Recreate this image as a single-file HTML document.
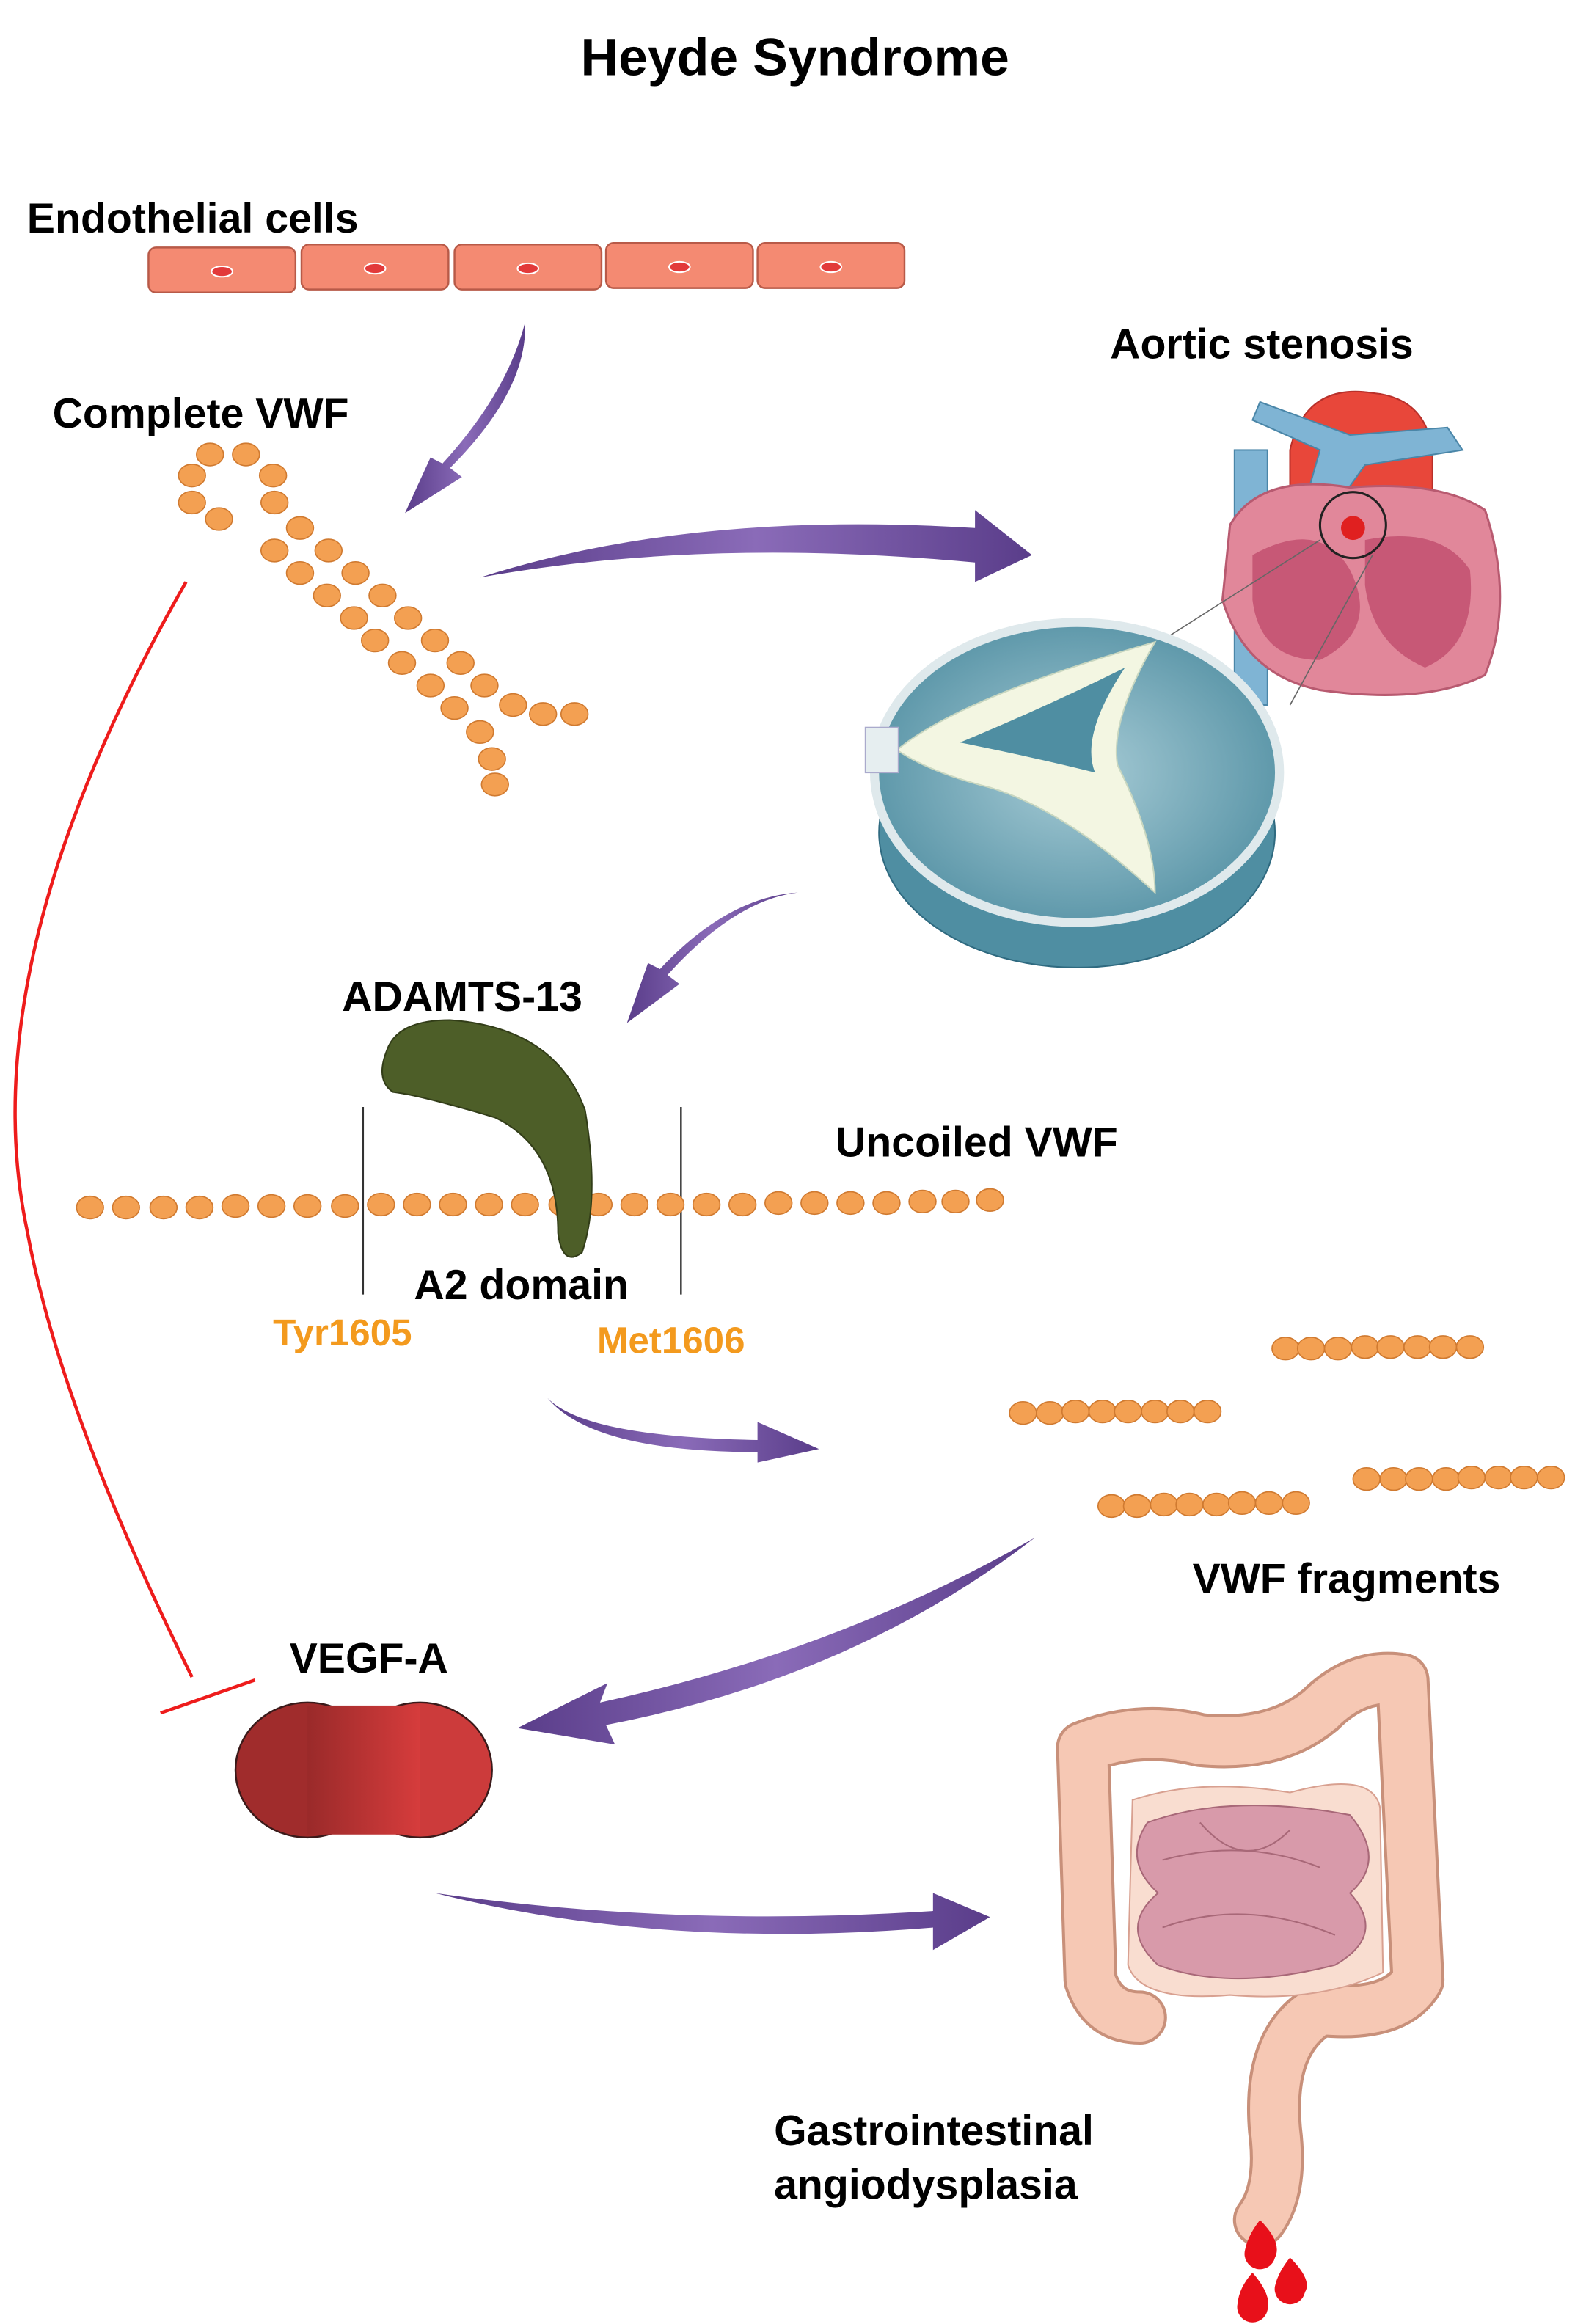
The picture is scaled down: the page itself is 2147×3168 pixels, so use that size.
<!DOCTYPE html>
<html><head><meta charset="utf-8"><style>body{margin:0;background:#fff}svg{display:block}text{font-family:"Liberation Sans",sans-serif;font-weight:bold}</style></head><body>
<svg width="2147" height="3168" viewBox="0 0 1050 1549.3" xmlns="http://www.w3.org/2000/svg">
<defs>
<linearGradient id="pg" x1="0" x2="1"><stop offset="0" stop-color="#5a3d8a"/><stop offset="0.5" stop-color="#8a6bb8"/><stop offset="1" stop-color="#5a3d8a"/></linearGradient>
<linearGradient id="rg" x1="0" x2="1"><stop offset="0" stop-color="#9a2a2a"/><stop offset="1" stop-color="#d63c3c"/></linearGradient>
<radialGradient id="vg"><stop offset="0" stop-color="#a8ccd6"/><stop offset="1" stop-color="#5e98aa"/></radialGradient>
<g id="d"><ellipse rx="9" ry="7.5" fill="#f3a052" stroke="#d07a30" stroke-width="0.8"/></g>
</defs>
<text x="530" y="50" font-size="35" text-anchor="middle">Heyde Syndrome</text>
<text x="18" y="155" font-size="28">Endothelial cells</text>
<g fill="#f48a72" stroke="#b85a48" stroke-width="1.2">
<rect x="99" y="165" width="98" height="30" rx="5"/><rect x="201" y="163" width="98" height="30" rx="5"/><rect x="303" y="163" width="98" height="30" rx="5"/><rect x="404" y="162" width="98" height="30" rx="5"/><rect x="505" y="162" width="98" height="30" rx="5"/></g>
<g fill="#e23a3a" stroke="#fff" stroke-width="1"><ellipse cx="148" cy="181" rx="7" ry="3.5"/><ellipse cx="250" cy="179" rx="7" ry="3.5"/><ellipse cx="352" cy="179" rx="7" ry="3.5"/><ellipse cx="453" cy="178" rx="7" ry="3.5"/><ellipse cx="554" cy="178" rx="7" ry="3.5"/></g>
<text x="35" y="285" font-size="28">Complete VWF</text>
<text x="740" y="239" font-size="28">Aortic stenosis</text>
<g fill="url(#pg)">
<path d="M350,215 Q352,260 300,312 L308,318 L270,342 L287,305 L295,309 Q338,262 350,215Z"/>
<path d="M320,385 Q460,340 650,352 L650,340 L688,370 L650,388 L650,375 Q470,358 320,385Z"/>
<path d="M532,595 Q490,600 445,650 L453,656 L418,682 L432,642 L440,646 Q485,598 532,595Z"/>
<path d="M365,932 Q390,958 505,960 L505,948 L546,966 L505,975 L505,968 Q395,968 365,932Z"/>
<path d="M690,1025 Q560,1100 400,1135 L405,1122 L345,1152 L410,1163 L404,1150 Q570,1118 690,1025Z"/>
<path d="M290,1262 Q440,1300 622,1285 L622,1300 L660,1278 L622,1262 L622,1274 Q450,1285 290,1262Z"/>
</g>
<g>
<use href="#d" x="140" y="303"/><use href="#d" x="164" y="303"/><use href="#d" x="128" y="317"/><use href="#d" x="182" y="317"/><use href="#d" x="128" y="335"/><use href="#d" x="183" y="335"/><use href="#d" x="146" y="346"/><use href="#d" x="200" y="352"/><use href="#d" x="183" y="367"/><use href="#d" x="219" y="367"/><use href="#d" x="200" y="382"/><use href="#d" x="237" y="382"/><use href="#d" x="218" y="397"/><use href="#d" x="255" y="397"/><use href="#d" x="236" y="412"/><use href="#d" x="272" y="412"/><use href="#d" x="250" y="427"/><use href="#d" x="290" y="427"/><use href="#d" x="268" y="442"/><use href="#d" x="307" y="442"/><use href="#d" x="287" y="457"/><use href="#d" x="323" y="457"/><use href="#d" x="303" y="472"/><use href="#d" x="342" y="470"/><use href="#d" x="362" y="476"/><use href="#d" x="383" y="476"/><use href="#d" x="320" y="488"/><use href="#d" x="328" y="506"/><use href="#d" x="330" y="523"/>
</g>
<path d="M124,388 Q-20,640 18,820 Q40,940 128,1118" fill="none" stroke="#ee1c1c" stroke-width="2.2"/>
<line x1="107" y1="1142" x2="170" y2="1120" stroke="#ee1c1c" stroke-width="2.2"/>
<g>
<rect x="823" y="300" width="22" height="170" fill="#7fb4d4" stroke="#4a86a8"/>
<path d="M860,300 Q870,255 915,262 Q950,265 955,300 L955,340 L860,340Z" fill="#e8473a" stroke="#b8302a"/>
<path d="M840,268 L900,290 L965,285 L975,300 L910,310 L885,345 L870,335 L880,300 L835,280Z" fill="#7fb4d4" stroke="#4a86a8"/>
<path d="M820,350 Q840,315 900,325 Q960,320 990,340 Q1010,400 990,450 Q950,470 880,460 Q830,450 815,400Z" fill="#e1879a" stroke="#b85a70" stroke-width="1.5"/>
<path d="M835,370 Q880,345 900,380 Q920,420 880,440 Q840,440 835,400Z" fill="#c75876"/>
<path d="M910,360 Q960,350 980,380 Q985,430 950,445 Q915,430 910,390Z" fill="#c75876"/>
<circle cx="902" cy="350" r="22" fill="none" stroke="#222" stroke-width="1.5"/>
<circle cx="902" cy="352" r="8" fill="#e02020"/>
<line x1="880" y1="360" x2="770" y2="430" stroke="#666" stroke-width="0.8"/><line x1="915" y1="370" x2="860" y2="470" stroke="#666" stroke-width="0.8"/>
</g>
<g>
<ellipse cx="718" cy="555" rx="132" ry="90" fill="#4f8ea2" stroke="#2f6a80"/>
<ellipse cx="718" cy="515" rx="135" ry="100" fill="url(#vg)" stroke="#dfe9ec" stroke-width="6"/>
<path d="M598,500 Q640,465 770,428 Q740,480 745,510 Q770,560 770,595 Q710,540 660,525 Q620,515 598,500Z" fill="#f3f6e2" stroke="#c9d7c0"/>
<path d="M640,495 Q700,470 750,445 Q720,490 730,515 Q690,505 640,495Z" fill="#4f8ea2"/>
<rect x="577" y="485" width="22" height="30" fill="#e6eef0" stroke="#aac"/>
</g>
<text x="228" y="674" font-size="28">ADAMTS-13</text>
<text x="557" y="771" font-size="28">Uncoiled VWF</text>
<line x1="242" y1="738" x2="242" y2="863" stroke="#333" stroke-width="1.2"/>
<line x1="454" y1="738" x2="454" y2="863" stroke="#333" stroke-width="1.2"/>
<g>
<use href="#d" x="60" y="805"/><use href="#d" x="84" y="805"/><use href="#d" x="109" y="805"/><use href="#d" x="133" y="805"/><use href="#d" x="157" y="804"/><use href="#d" x="181" y="804"/><use href="#d" x="205" y="804"/><use href="#d" x="230" y="804"/><use href="#d" x="254" y="803"/><use href="#d" x="278" y="803"/><use href="#d" x="302" y="803"/><use href="#d" x="326" y="803"/><use href="#d" x="350" y="803"/><use href="#d" x="375" y="803"/><use href="#d" x="399" y="803"/><use href="#d" x="423" y="803"/><use href="#d" x="447" y="803"/><use href="#d" x="471" y="803"/><use href="#d" x="495" y="803"/><use href="#d" x="519" y="802"/><use href="#d" x="543" y="802"/><use href="#d" x="567" y="802"/><use href="#d" x="591" y="802"/><use href="#d" x="615" y="801"/><use href="#d" x="637" y="801"/><use href="#d" x="660" y="800"/>
</g>
<path d="M258,700 Q265,680 300,680 Q370,685 390,740 Q400,800 388,835 Q375,845 372,822 Q372,765 330,745 Q280,730 262,728 Q250,720 258,700Z" fill="#4d5e28" stroke="#323d18" stroke-width="1"/>
<text x="276" y="866" font-size="28">A2 domain</text>
<text x="182" y="897" font-size="25" fill="#f39a1e">Tyr1605</text>
<text x="398" y="902" font-size="25" fill="#f39a1e">Met1606</text>
<g>
<use href="#d" x="857" y="899"/><use href="#d" x="874" y="899"/><use href="#d" x="892" y="899"/><use href="#d" x="910" y="898"/><use href="#d" x="927" y="898"/><use href="#d" x="945" y="898"/><use href="#d" x="962" y="898"/><use href="#d" x="980" y="898"/>
<use href="#d" x="682" y="942"/><use href="#d" x="700" y="942"/><use href="#d" x="717" y="941"/><use href="#d" x="735" y="941"/><use href="#d" x="752" y="941"/><use href="#d" x="770" y="941"/><use href="#d" x="787" y="941"/><use href="#d" x="805" y="941"/>
<use href="#d" x="741" y="1004"/><use href="#d" x="758" y="1004"/><use href="#d" x="776" y="1003"/><use href="#d" x="793" y="1003"/><use href="#d" x="811" y="1003"/><use href="#d" x="828" y="1002"/><use href="#d" x="846" y="1002"/><use href="#d" x="864" y="1002"/>
<use href="#d" x="911" y="986"/><use href="#d" x="929" y="986"/><use href="#d" x="946" y="986"/><use href="#d" x="964" y="986"/><use href="#d" x="981" y="985"/><use href="#d" x="999" y="985"/><use href="#d" x="1016" y="985"/><use href="#d" x="1034" y="985"/>
</g>
<text x="795" y="1062" font-size="28">VWF fragments</text>
<text x="193" y="1115" font-size="28">VEGF-A</text>
<ellipse cx="205" cy="1180" rx="48" ry="45" fill="#a02c2c" stroke="#3a1a1a" stroke-width="1.2"/>
<ellipse cx="280" cy="1180" rx="48" ry="45" fill="#cc3b3b" stroke="#3a1a1a" stroke-width="1.2"/>
<rect x="205" y="1137" width="75" height="86" fill="url(#rg)"/>
<g fill="none" stroke-linecap="round" stroke-linejoin="round">
<path d="M760,1345 Q735,1345 727,1320 L722,1165 Q760,1150 800,1160 Q850,1165 880,1140 Q905,1115 935,1120 L945,1320 Q930,1345 880,1340 Q845,1360 850,1420 Q855,1460 840,1480" stroke="#c8907a" stroke-width="36"/>
<path d="M760,1345 Q735,1345 727,1320 L722,1165 Q760,1150 800,1160 Q850,1165 880,1140 Q905,1115 935,1120 L945,1320 Q930,1345 880,1340 Q845,1360 850,1420 Q855,1460 840,1480" stroke="#f6c8b4" stroke-width="32"/>
</g>
<path d="M755,1200 Q800,1185 860,1195 Q915,1180 920,1205 L922,1315 Q880,1335 820,1330 Q760,1335 752,1310Z" fill="#f9ddd0" stroke="#d8a090"/>
<path d="M765,1215 Q820,1195 900,1210 Q925,1240 900,1262 Q925,1290 890,1310 Q820,1328 772,1310 Q745,1285 772,1262 Q748,1240 765,1215Z" fill="#d89aaa" stroke="#a86878"/>
<path d="M775,1240 Q830,1225 880,1245 M775,1285 Q830,1265 890,1290 M800,1215 Q830,1250 860,1220" fill="none" stroke="#a86878"/>
<text x="516" y="1430" font-size="28">Gastrointestinal</text>
<text x="516" y="1466" font-size="28">angiodysplasia</text>
<g fill="#e8101a"><path d="M840,1480 Q855,1495 850,1505 A10,10 0 1 1 830,1500 Q832,1490 840,1480Z"/><path d="M860,1505 Q875,1520 870,1528 A10,10 0 1 1 850,1524 Q852,1515 860,1505Z"/><path d="M835,1515 Q848,1530 845,1540 A10,10 0 1 1 825,1536 Q826,1525 835,1515Z"/></g>
</svg>
</body></html>
